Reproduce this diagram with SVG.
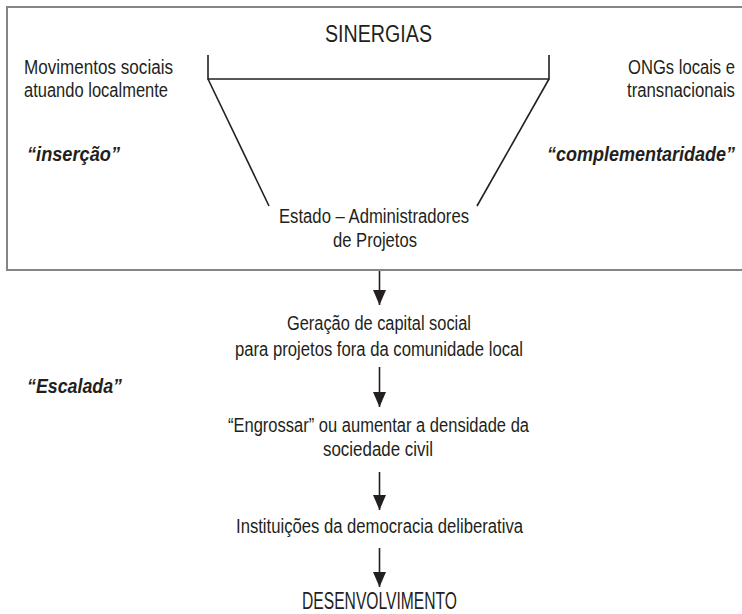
<svg xmlns="http://www.w3.org/2000/svg" width="742" height="614" viewBox="0 0 742 614">
<defs>
<style>
.t{font-family:"Liberation Sans",Arial,sans-serif;font-size:19.5px;fill:#231f20}
.c{text-anchor:middle}
.r{text-anchor:end}
.bi{font-weight:bold;font-style:italic;font-size:20px}
.big{font-size:23px}
.ln{stroke:#231f20;stroke-width:1.6;fill:none}
.box{stroke:#858585;stroke-width:2;fill:none}
</style>
<marker id="ah" markerUnits="userSpaceOnUse" markerWidth="16" markerHeight="13" refX="15" refY="6.5" orient="auto" viewBox="0 0 16 13">
<path d="M0,0 L15,6.5 L0,13 Z" fill="#231f20"/>
</marker>
</defs>
<rect width="742" height="614" fill="#ffffff"/>
<g id="frame">
<path class="box" d="M742,7 H7 V270 H742"/>
</g>
<g id="sinergias">
<text class="t c big" x="378.5" y="42" textLength="107" lengthAdjust="spacingAndGlyphs">SINERGIAS</text>
</g>
<g id="movimentos">
<text class="t" x="24" y="74" textLength="149" lengthAdjust="spacingAndGlyphs">Movimentos sociais</text>
<text class="t" x="24" y="97" textLength="144" lengthAdjust="spacingAndGlyphs">atuando localmente</text>
</g>
<g id="ongs">
<text class="t r" x="735" y="74" textLength="107" lengthAdjust="spacingAndGlyphs">ONGs locais e</text>
<text class="t r" x="735" y="97" textLength="108" lengthAdjust="spacingAndGlyphs">transnacionais</text>
</g>
<g id="insercao">
<text class="t bi" x="27" y="161" textLength="93" lengthAdjust="spacingAndGlyphs">“inserção”</text>
</g>
<g id="complementaridade">
<text class="t bi r" x="735" y="161" textLength="188" lengthAdjust="spacingAndGlyphs">“complementaridade”</text>
</g>
<g id="estado">
<text class="t c" x="374" y="223" textLength="190" lengthAdjust="spacingAndGlyphs">Estado – Administradores</text>
<text class="t c" x="375" y="247" textLength="84" lengthAdjust="spacingAndGlyphs">de Projetos</text>
</g>
<g id="geracao">
<text class="t c" x="379" y="330" textLength="184" lengthAdjust="spacingAndGlyphs">Geração de capital social</text>
<text class="t c" x="379" y="356" textLength="288" lengthAdjust="spacingAndGlyphs">para projetos fora da comunidade local</text>
</g>
<g id="escalada">
<text class="t bi" x="27" y="393" textLength="95" lengthAdjust="spacingAndGlyphs">“Escalada”</text>
</g>
<g id="engrossar">
<text class="t c" x="378.5" y="432" textLength="301" lengthAdjust="spacingAndGlyphs">“Engrossar” ou aumentar a densidade da</text>
<text class="t c" x="378" y="456" textLength="110" lengthAdjust="spacingAndGlyphs">sociedade civil</text>
</g>
<g id="instituicoes">
<text class="t c" x="379.5" y="533" textLength="287" lengthAdjust="spacingAndGlyphs">Instituições da democracia deliberativa</text>
</g>
<g id="desenvolvimento">
<text class="t c big" x="379.5" y="609" textLength="155" lengthAdjust="spacingAndGlyphs">DESENVOLVIMENTO</text>
</g>
<g id="connectors">
<path class="ln" d="M208,55 V79 H549 V55"/>
<path class="ln" d="M208,79 L269,206"/>
<path class="ln" d="M549,79 L477,206"/>
<path class="ln" d="M379.5,271 V305" marker-end="url(#ah)"/>
<path class="ln" d="M379.5,367 V407" marker-end="url(#ah)"/>
<path class="ln" d="M379.5,472 V510" marker-end="url(#ah)"/>
<path class="ln" d="M379.5,548 V587" marker-end="url(#ah)"/>
</g>
</svg>
